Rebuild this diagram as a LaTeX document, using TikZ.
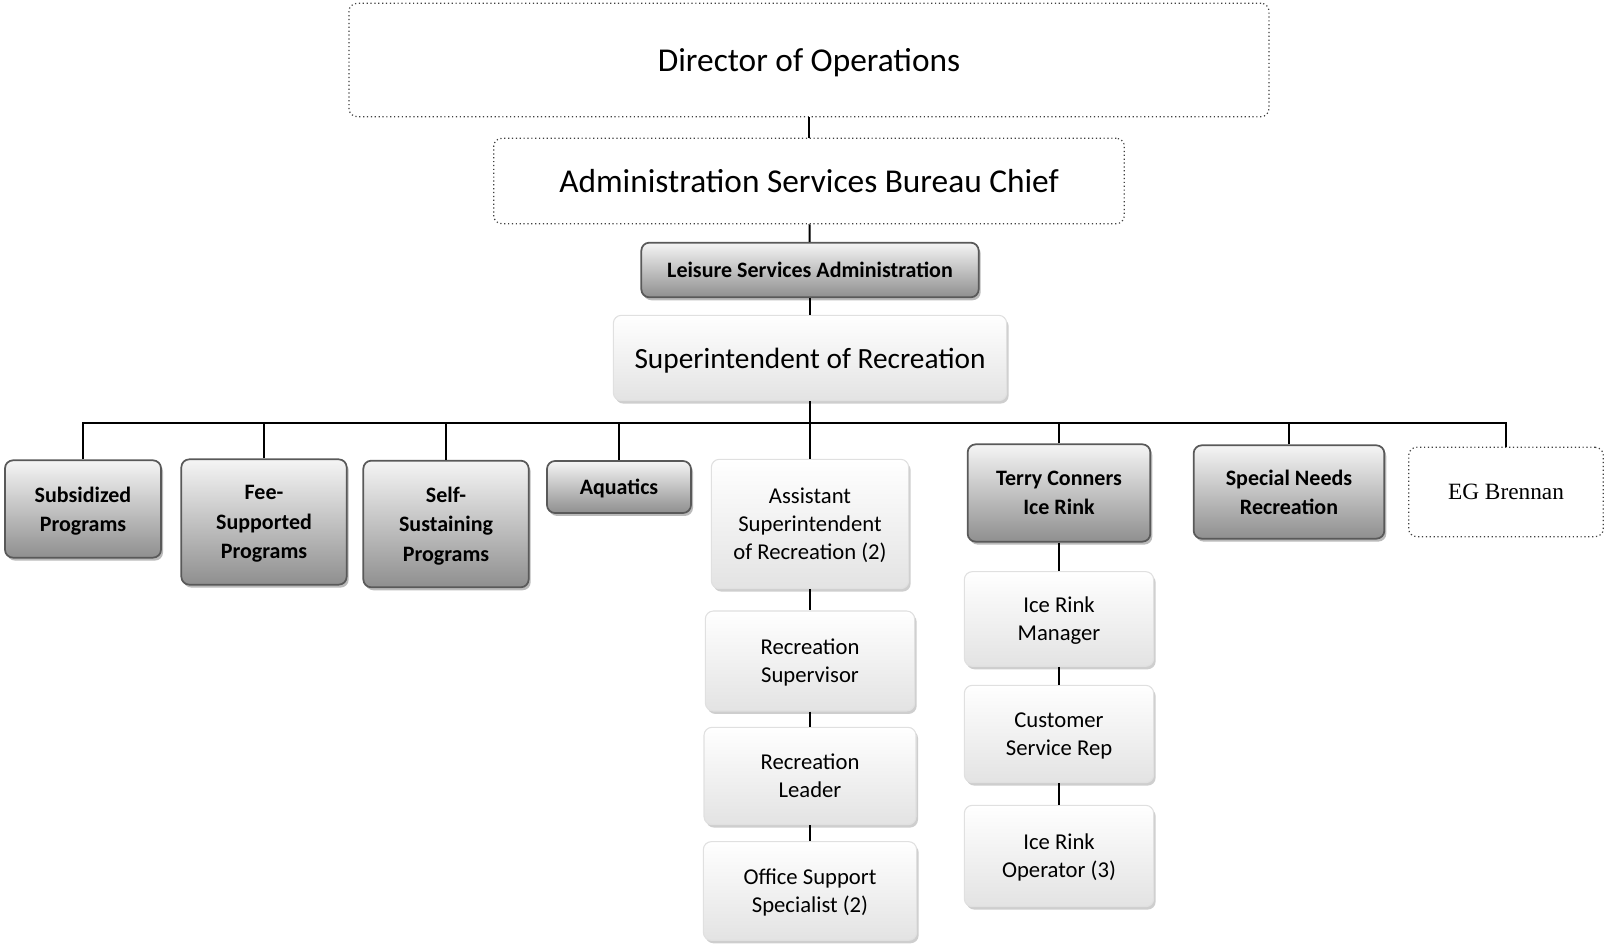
\documentclass[tikz,border=0pt]{standalone}
\usepackage{fontspec}
\setmainfont{Carlito}
\newfontfamily\timesfont{Liberation Serif}
\usetikzlibrary{shadows,shadings}

\begin{document}
\begin{tikzpicture}[
    x=0.75pt, y=-0.75pt,
    dotbox/.style={rectangle, draw=black!75, dotted, line width=0.9pt, rounded corners=6pt, fill=white, align=center, text depth=0pt},
    darkbox/.style={rectangle, draw=black!65, line width=1.3pt, rounded corners=6pt, top color=black!4, bottom color=black!44, align=center, text depth=0pt, font=\fontsize{16.5}{22}\selectfont\bfseries, drop shadow={shadow xshift=1.5pt, shadow yshift=-2.2pt, fill=black!45, opacity=.6}},
    lightbox/.style={rectangle, draw=black!12, line width=0.8pt, rounded corners=6pt, top color=white, bottom color=black!11, align=center, text depth=0pt, font=\fontsize{17}{21}\selectfont, drop shadow={shadow xshift=1.5pt, shadow yshift=-2.2pt, fill=black!35, opacity=.55}},
    link/.style={line width=1.5pt},
    branch/.style={line width=0.9pt},
]
\useasboundingbox (0,0) rectangle (1604,944);

\node (director) [dotbox, minimum width=690pt, minimum height=85pt, font=\fontsize{25}{30}\selectfont] at (809,60) {Director of Operations};
\node (bureau) [dotbox, minimum width=473pt, minimum height=64pt, font=\fontsize{25}{30}\selectfont] at (809,181) {Administration Services Bureau Chief};
\node (leisure) [darkbox, minimum width=253pt, minimum height=41pt] at (810,270) {Leisure Services Administration};
\node (super) [lightbox, minimum width=295pt, minimum height=64pt, font=\fontsize{22}{26}\selectfont] at (810,358) {Superintendent of Recreation};

\node (subsidized) [darkbox, minimum width=117pt, minimum height=73pt] at (83,509) {Subsidized\\ Programs};
\node (feesupp) [darkbox, minimum width=124pt, minimum height=94pt] at (264,522) {Fee-\\ Supported\\ Programs};
\node (selfsust) [darkbox, minimum width=124pt, minimum height=95pt] at (446,524) {Self-\\ Sustaining\\ Programs};
\node (aquatics) [darkbox, minimum width=108pt, minimum height=39pt] at (619,487) {Aquatics};
\node (asstsuper) [lightbox, minimum width=148pt, minimum height=97pt] at (810,524) {Assistant\\ Superintendent\\ of Recreation (2)};
\node (icerink) [darkbox, minimum width=137pt, minimum height=73pt] at (1059,493) {Terry Conners\\ Ice Rink};
\node (specneeds) [darkbox, minimum width=143pt, minimum height=70pt] at (1289,492) {Special Needs\\ Recreation};
\node (brennan) [dotbox, minimum width=146pt, minimum height=67pt, font=\timesfont\fontsize{17.5}{21}\selectfont] at (1506,492) {EG Brennan};

\node (recsuper) [lightbox, minimum width=157pt, minimum height=75pt] at (810,661) {Recreation\\ Supervisor};
\node (recleader) [lightbox, minimum width=159pt, minimum height=73pt] at (810,776) {Recreation\\ Leader};
\node (officesupp) [lightbox, minimum width=160pt, minimum height=74pt] at (810,891) {Office Support\\ Specialist (2)};

\node (rinkmgr) [lightbox, minimum width=142pt, minimum height=71pt] at (1059,619) {Ice Rink\\ Manager};
\node (custserv) [lightbox, minimum width=142pt, minimum height=73pt] at (1059,734) {Customer\\ Service Rep};
\node (rinkop) [lightbox, minimum width=142pt, minimum height=76pt] at (1059,856) {Ice Rink\\ Operator (3)};

\coordinate (bus) at (810,423);

\draw [link] (director) -- (bureau);
\draw [link] (bureau) -- (leisure);
\draw [link] (leisure) -- (super);
\draw [link] (super) -- (asstsuper);
\draw [link] (asstsuper) -- (recsuper);
\draw [link] (recsuper) -- (recleader);
\draw [link] (recleader) -- (officesupp);
\draw [link] (icerink) -- (rinkmgr);
\draw [link] (rinkmgr) -- (custserv);
\draw [link] (custserv) -- (rinkop);

\draw [branch] (subsidized.north) |- (bus) -| (brennan.north);
\draw [branch] (feesupp.north) -- (feesupp.north |- bus);
\draw [branch] (selfsust.north) -- (selfsust.north |- bus);
\draw [branch] (aquatics.north) -- (aquatics.north |- bus);
\draw [branch] (icerink.north) -- (icerink.north |- bus);
\draw [branch] (specneeds.north) -- (specneeds.north |- bus);

\end{tikzpicture}
\end{document}
